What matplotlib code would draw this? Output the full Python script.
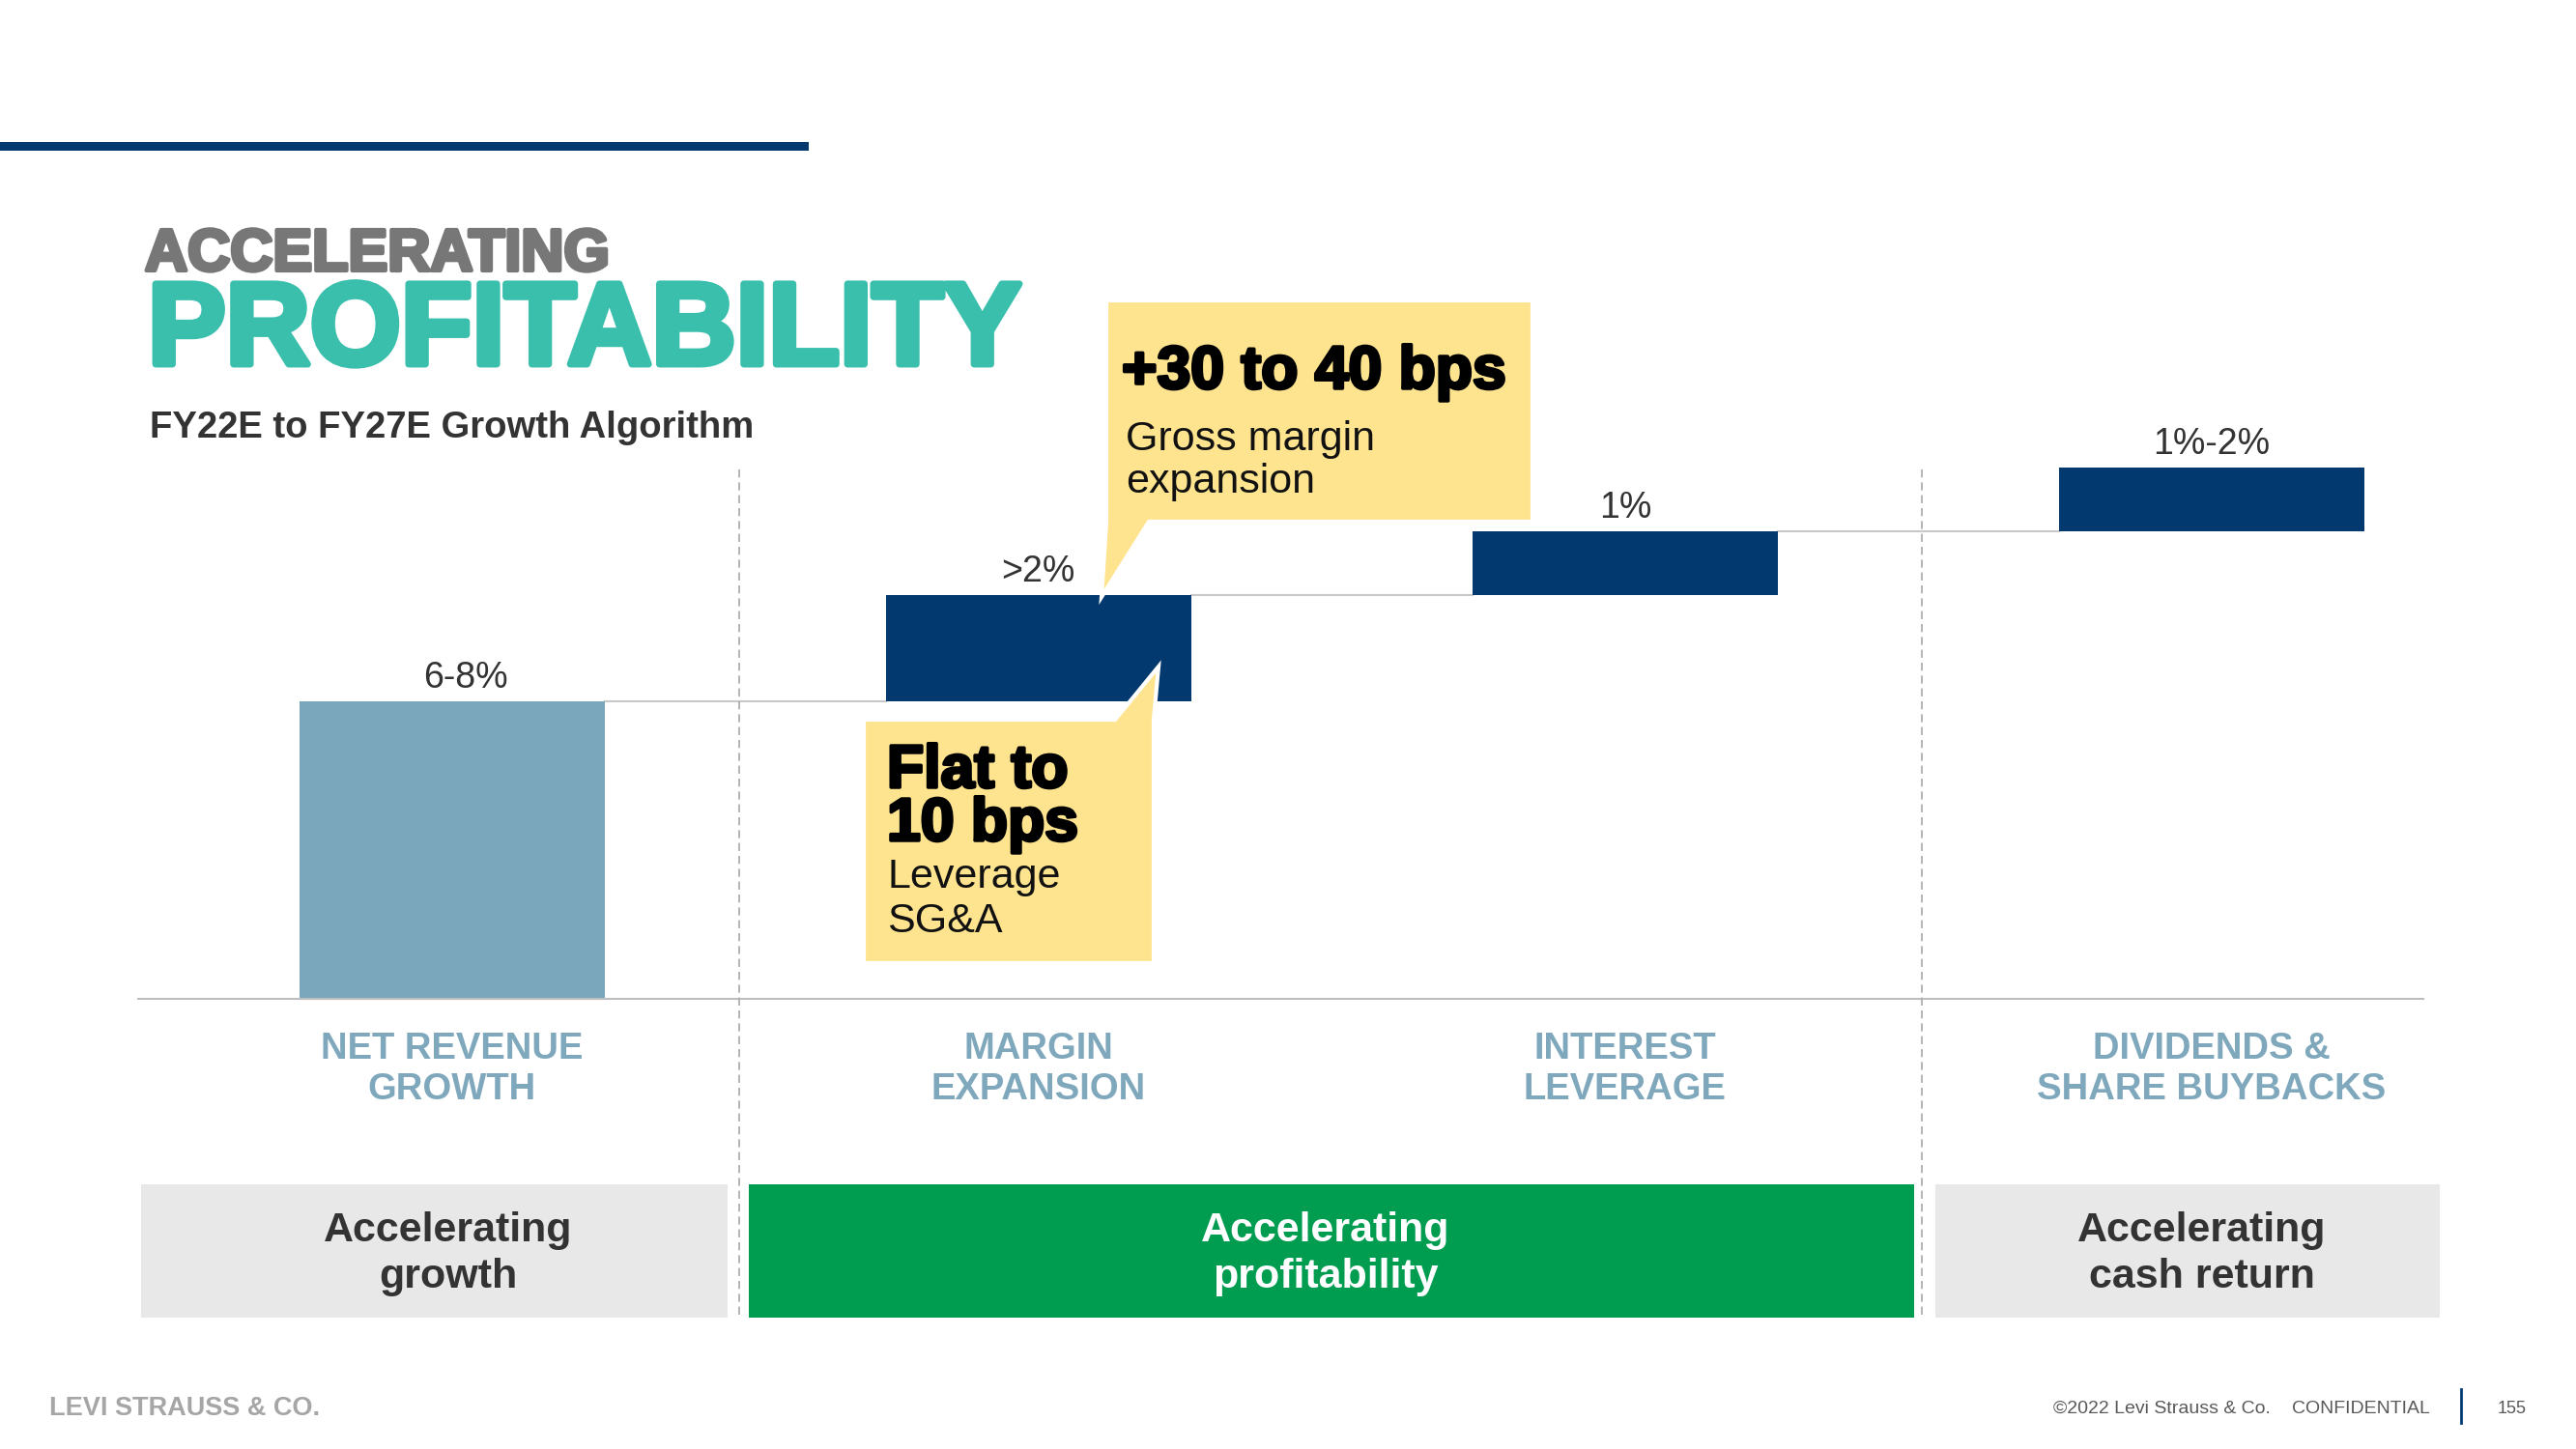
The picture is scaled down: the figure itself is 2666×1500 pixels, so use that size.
import matplotlib.pyplot as plt
from matplotlib.patches import Rectangle, Polygon
import matplotlib.patheffects as pe

plt.rcParams['font.family'] = ['Liberation Sans', 'DejaVu Sans']

# data (bar heights in drawn units)
categories = [["NET REVENUE", "GROWTH"], ["MARGIN", "EXPANSION"],
              ["INTEREST", "LEVERAGE"], ["DIVIDENDS &", "SHARE BUYBACKS"]]
steps = [7.0, 2.5, 1.5, 1.5]
value_labels = ["6-8%", ">2%", "1%", "1%-2%"]
bar_colors = ["#7BA7BC", "#023A70", "#023A70", "#023A70"]
pillars = [["Accelerating", "growth"], ["Accelerating", "profitability"],
           ["Accelerating", "cash return"]]
callout_top = ["+30 to 40 bps", "Gross margin", "expansion"]
callout_low = ["Flat to", "10 bps", "Leverage", "SG&A"]

W, H = 2666, 1500
fig = plt.figure(figsize=(W / 100, H / 100), dpi=100)

# waterfall axes (pixel box 143..2508 x, 418..1034 y)
ax = fig.add_axes([143 / W, 1 - 1034 / H, (2508 - 143) / W, (1034 - 418) / H], zorder=1)
ax.set_xlim(-0.535, 3.361)
ax.set_ylim(0, 14)
for s in ["top", "right", "left"]:
    ax.spines[s].set_visible(False)
ax.spines["bottom"].set_color("#BDBDBD")
ax.spines["bottom"].set_linewidth(1.5)
ax.set_xticks([])
ax.set_yticks([])
ax.patch.set_alpha(0)

x = list(range(len(steps)))
bottoms = []
run = 0
for v in steps:
    bottoms.append(run)
    run += v
tops = [b + v for b, v in zip(bottoms, steps)]
bw = 0.521
ax.bar(x, steps, bottom=bottoms, width=bw, color=bar_colors, zorder=2)

for i in range(len(steps) - 1):
    ax.plot([i + bw / 2, i + 1 - bw / 2], [tops[i], tops[i]], color="#C8C8C8", lw=1.5, zorder=1)

for i, lbl in enumerate(value_labels):
    dx = 10 if i == 0 else 0
    ax.annotate(lbl, (i, tops[i]), xytext=(dx, 10), textcoords="offset points",
                ha="center", va="baseline", fontsize=27, color="#333333")

tr = ax.get_xaxis_transform()
for i, (l1, l2) in enumerate(categories):
    ax.text(i, -(1096 - 1034) / 616, l1, transform=tr, ha="center", va="baseline",
            fontsize=27.5, fontweight="bold", color="#7FA8BD")
    ax.text(i, -(1138 - 1034) / 616, l2, transform=tr, ha="center", va="baseline",
            fontsize=27.5, fontweight="bold", color="#7FA8BD")

# overlay in pixel coordinates for slide decoration
deco = fig.add_axes([0, 0, 1, 1], zorder=3)
deco.set_xlim(0, W)
deco.set_ylim(H, 0)
deco.axis("off")
deco.patch.set_alpha(0)

deco.add_patch(Rectangle((0, 147), 837, 9, color="#023A70", lw=0))

deco.text(150, 280, "ACCELERATING", fontsize=44, fontweight="bold", color="#777777",
          va="baseline", path_effects=[pe.withStroke(linewidth=3, foreground="#777777")])
deco.text(153, 377, "PROFITABILITY", fontsize=87, fontweight="bold", color="#3BBFAD",
          va="baseline", path_effects=[pe.withStroke(linewidth=5, foreground="#3BBFAD")])
deco.text(155, 453, "FY22E to FY27E Growth Algorithm", fontsize=27.5, fontweight="bold",
          color="#333333", va="baseline")

# dashed separators
for xd in [765, 1989]:
    deco.plot([xd, xd], [486, 1364], color="#A8A8A8", lw=1.2, ls=(0, (5, 3)))

# pillar boxes
boxes = [(146, 753, 464, "#E8E8E8", "#333333"), (775, 1981, 1372, "#009C4F", "white"),
         (2003, 2525, 2279, "#E8E8E8", "#333333")]
for (x0, x1, cx, fc, tc), (t1, t2) in zip(boxes, pillars):
    deco.add_patch(Rectangle((x0, 1226), x1 - x0, 138, color=fc, lw=0))
    deco.text(cx, 1285, t1, ha="center", va="baseline", fontsize=31, fontweight="bold", color=tc)
    deco.text(cx, 1333, t2, ha="center", va="baseline", fontsize=31, fontweight="bold", color=tc)

# callouts
yel = "#FFE48F"
deco.add_patch(Polygon([(1145, 311), (1586, 311), (1586, 540), (1189, 540), (1140, 618), (1145, 540)],
                       closed=True, fc=yel, ec="white", lw=3, joinstyle="miter"))
deco.add_patch(Polygon([(894, 745), (1154, 745), (1199, 690), (1194, 745), (1194, 997), (894, 997)],
                       closed=True, fc=yel, ec="white", lw=3, joinstyle="miter"))

blk = [pe.withStroke(linewidth=2.5, foreground="black")]
deco.text(1161, 402, callout_top[0], fontsize=45, fontweight="bold", color="black",
          va="baseline", path_effects=blk)
deco.text(1165, 466, callout_top[1], fontsize=31, color="#111111", va="baseline")
deco.text(1165, 510, callout_top[2], fontsize=31, color="#111111", va="baseline")

deco.text(918, 815, callout_low[0], fontsize=45, fontweight="bold", color="black",
          va="baseline", path_effects=blk)
deco.text(918, 870, callout_low[1], fontsize=45, fontweight="bold", color="black",
          va="baseline", path_effects=blk)
deco.text(918, 919, callout_low[2], fontsize=31, color="#111111", va="baseline")
deco.text(918, 965, callout_low[3], fontsize=31, color="#111111", va="baseline")

# footer
deco.text(51, 1465, "LEVI STRAUSS & CO.", fontsize=19.5, fontweight="bold", color="#A6A6A6", va="baseline")
deco.text(2125, 1463, "\u00a92022 Levi Strauss & Co.", fontsize=14, color="#595959", va="baseline")
deco.text(2372, 1463, "CONFIDENTIAL", fontsize=14, color="#595959", va="baseline")
deco.plot([2547, 2547], [1438, 1473], color="#023A70", lw=2)
deco.text(2600, 1463, "155", fontsize=13, color="#595959", va="baseline", ha="center")

fig.savefig("out.png", dpi=100)
